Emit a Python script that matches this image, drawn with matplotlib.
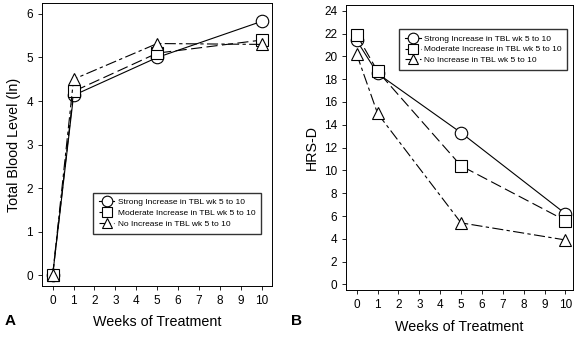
import numpy as np
import matplotlib.pyplot as plt

plt.rcParams['font.family'] = ['Liberation Sans', 'DejaVu Sans']

weeks = [0, 1, 5, 10]
labels = ['Strong Increase in TBL wk 5 to 10',
          'Moderate Increase in TBL wk 5 to 10',
          'No Increase in TBL wk 5 to 10']

tbl_strong = [0, 4.13, 5.0, 5.83]
tbl_moderate = [0, 4.22, 5.1, 5.4]
tbl_none = [0, 4.5, 5.32, 5.3]

hrs_strong = [21.4, 18.5, 13.3, 6.2]
hrs_moderate = [21.9, 18.7, 10.4, 5.6]
hrs_none = [20.2, 15.0, 5.4, 3.9]

markers = ['o', 's', '^']
styles = ['-', (0, (10, 4)), (0, (10, 3, 3, 3))]

fig = plt.figure(figsize=(5.78, 3.37), dpi=100)
axA = fig.add_axes([0.073, 0.151, 0.398, 0.840])
axB = fig.add_axes([0.599, 0.139, 0.392, 0.846])


def draw(ax, series):
    for vals, m, ls, lab in zip(series, markers, styles, labels):
        ax.plot(weeks, vals, linestyle=ls, marker=m, color='black', lw=0.8,
                markersize=9, markerfacecolor='white', markeredgewidth=0.8,
                label=lab)
    ax.set_xticks(range(11))
    ax.tick_params(direction='out', length=3, width=0.6, labelsize=8.5,
                   top=False, right=False)
    for s in ax.spines.values():
        s.set_linewidth(0.7)
    ax.set_xlabel('Weeks of Treatment', fontsize=10.3, labelpad=6)


def legend(ax, anchor):
    ax.legend(loc='upper left', bbox_to_anchor=anchor, fontsize=6,
              frameon=True, fancybox=False, edgecolor='black',
              handlelength=1.9, handletextpad=0.4, borderpad=0.7,
              labelspacing=0.35, markerscale=0.85, borderaxespad=0)


draw(axA, [tbl_strong, tbl_moderate, tbl_none])
axA.set_xlim(-0.5, 10.5)
axA.set_ylim(-0.25, 6.25)
axA.set_yticks(range(7))
axA.set_ylabel('Total Blood Level (ln)', fontsize=10.3)
legend(axA, (0.22, 0.33))

draw(axB, [hrs_strong, hrs_moderate, hrs_none])
axB.set_xlim(-0.5, 10.35)
axB.set_ylim(-0.5, 24.5)
axB.set_yticks(range(0, 25, 2))
axB.set_ylabel('HRS-D', fontsize=10.3)
legend(axB, (0.233, 0.916))

fig.text(0.008, 0.035, 'A', fontsize=11, fontweight='bold')
fig.text(0.503, 0.035, 'B', fontsize=11, fontweight='bold')

fig.savefig('out.png', dpi=100)
